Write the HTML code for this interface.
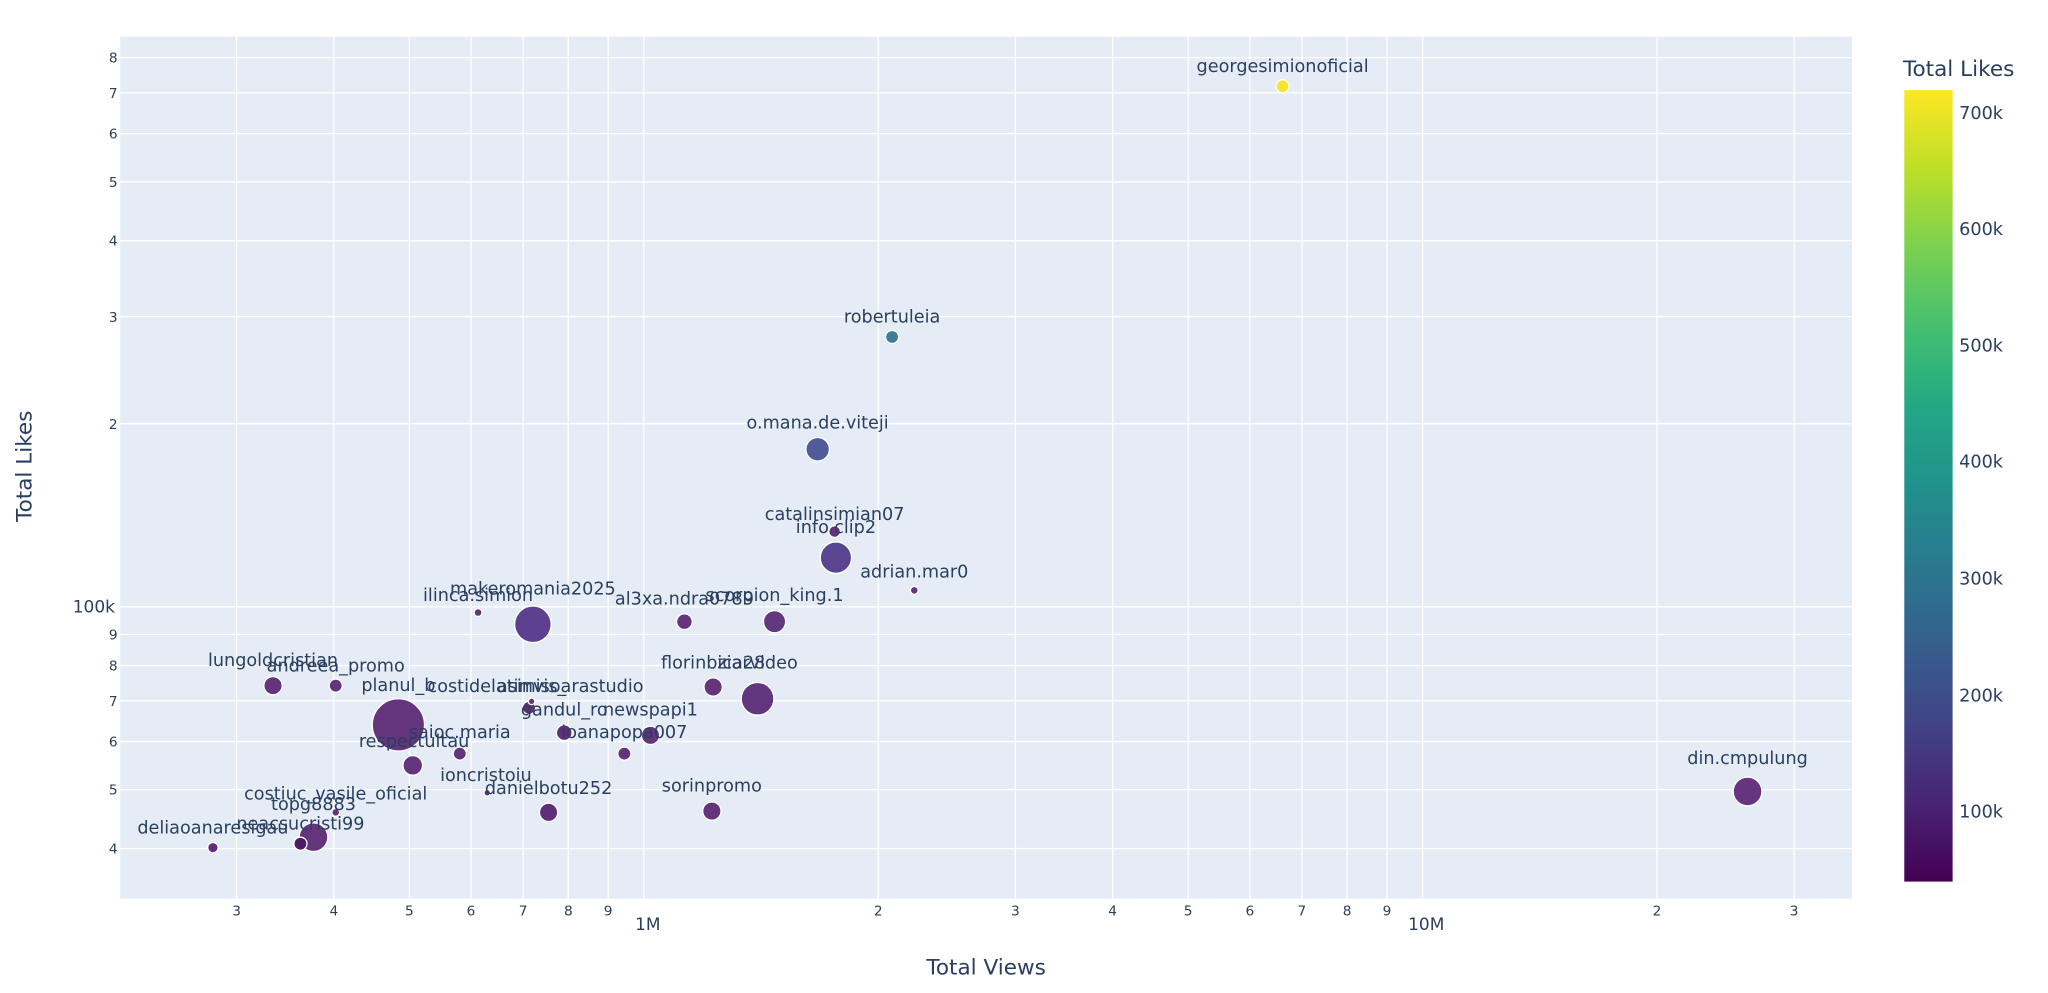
<!DOCTYPE html>
<html><head><meta charset="utf-8"><style>html,body{margin:0;padding:0;background:#fff}svg{display:block}</style></head>
<body>
<svg width="2048" height="993" viewBox="0 0 1568 760.3" xmlns="http://www.w3.org/2000/svg" font-family="'DejaVu Sans', 'Liberation Sans', sans-serif">
<defs>
<linearGradient id="vir" x1="0" y1="1" x2="0" y2="0">
<stop offset="0" stop-color="#440154"/><stop offset="0.1" stop-color="#482475"/><stop offset="0.2" stop-color="#414487"/><stop offset="0.3" stop-color="#355f8d"/><stop offset="0.4" stop-color="#2a788e"/><stop offset="0.5" stop-color="#21918c"/><stop offset="0.6" stop-color="#22a884"/><stop offset="0.7" stop-color="#44bf70"/><stop offset="0.8" stop-color="#7ad151"/><stop offset="0.9" stop-color="#bddf26"/><stop offset="1" stop-color="#fde725"/>
</linearGradient>
</defs>
<rect x="92" y="28" width="1326" height="660" fill="#e5ecf6"/>
<g stroke="#fff" stroke-width="1">
<line x1="181.1" y1="28" x2="181.1" y2="688"/><line x1="255.6" y1="28" x2="255.6" y2="688"/><line x1="313.4" y1="28" x2="313.4" y2="688"/><line x1="360.6" y1="28" x2="360.6" y2="688"/><line x1="400.5" y1="28" x2="400.5" y2="688"/><line x1="435.1" y1="28" x2="435.1" y2="688"/><line x1="465.6" y1="28" x2="465.6" y2="688"/><line x1="492.9" y1="28" x2="492.9" y2="688"/><line x1="672.4" y1="28" x2="672.4" y2="688"/><line x1="777.4" y1="28" x2="777.4" y2="688"/><line x1="851.9" y1="28" x2="851.9" y2="688"/><line x1="909.7" y1="28" x2="909.7" y2="688"/><line x1="956.9" y1="28" x2="956.9" y2="688"/><line x1="996.8" y1="28" x2="996.8" y2="688"/><line x1="1031.4" y1="28" x2="1031.4" y2="688"/><line x1="1061.9" y1="28" x2="1061.9" y2="688"/><line x1="1089.2" y1="28" x2="1089.2" y2="688"/><line x1="1268.7" y1="28" x2="1268.7" y2="688"/><line x1="1373.7" y1="28" x2="1373.7" y2="688"/>
<line x1="92" y1="649.7" x2="1418" y2="649.7"/><line x1="92" y1="604.6" x2="1418" y2="604.6"/><line x1="92" y1="567.8" x2="1418" y2="567.8"/><line x1="92" y1="536.6" x2="1418" y2="536.6"/><line x1="92" y1="509.6" x2="1418" y2="509.6"/><line x1="92" y1="485.8" x2="1418" y2="485.8"/><line x1="92" y1="464.5" x2="1418" y2="464.5"/><line x1="92" y1="324.4" x2="1418" y2="324.4"/><line x1="92" y1="242.4" x2="1418" y2="242.4"/><line x1="92" y1="184.3" x2="1418" y2="184.3"/><line x1="92" y1="139.2" x2="1418" y2="139.2"/><line x1="92" y1="102.3" x2="1418" y2="102.3"/><line x1="92" y1="71.1" x2="1418" y2="71.1"/><line x1="92" y1="44.1" x2="1418" y2="44.1"/>
</g>
<g fill="#2a3f5f" font-size="10.5" text-anchor="middle">
<text x="181.1" y="701">3</text><text x="255.6" y="701">4</text><text x="313.4" y="701">5</text><text x="360.6" y="701">6</text><text x="400.5" y="701">7</text><text x="435.1" y="701">8</text><text x="465.6" y="701">9</text><text x="672.4" y="701">2</text><text x="777.4" y="701">3</text><text x="851.9" y="701">4</text><text x="909.7" y="701">5</text><text x="956.9" y="701">6</text><text x="996.8" y="701">7</text><text x="1031.4" y="701">8</text><text x="1061.9" y="701">9</text><text x="1268.7" y="701">2</text><text x="1373.7" y="701">3</text>
<text x="496" y="712" font-size="13">1M</text><text x="1092" y="712" font-size="13">10M</text>
</g>
<g fill="#2a3f5f" font-size="10.5" text-anchor="end">
<text x="90" y="653.5">4</text><text x="90" y="608.5">5</text><text x="90" y="571.5">6</text><text x="90" y="540.5">7</text><text x="90" y="513.5">8</text><text x="90" y="489.5">9</text><text x="88" y="469" font-size="13">100k</text><text x="90" y="328.5">2</text><text x="90" y="246.5">3</text><text x="90" y="188">4</text><text x="90" y="143">5</text><text x="90" y="106">6</text><text x="90" y="75">7</text><text x="90" y="48">8</text>
</g>
<text x="755" y="746" font-size="16.5" fill="#2a3f5f" text-anchor="middle">Total Views</text>
<text transform="translate(24,357) rotate(-90)" font-size="16.5" fill="#2a3f5f" text-anchor="middle">Total Likes</text>
<g stroke="#fff" stroke-width="1">
<circle cx="305" cy="555" r="20" fill="#64347d"/>
<circle cx="408" cy="478" r="14" fill="#5d4190"/>
<circle cx="640" cy="427" r="12" fill="#594590"/>
<circle cx="580" cy="535" r="12.5" fill="#64357f"/>
<circle cx="1338" cy="606" r="11" fill="#66357f"/>
<circle cx="240" cy="641" r="11" fill="#64347d"/>
<circle cx="626" cy="344" r="9" fill="#525b99"/>
<circle cx="593" cy="476" r="8.5" fill="#62397f"/>
<circle cx="209" cy="525" r="7" fill="#64347d"/>
<circle cx="546" cy="526" r="7" fill="#64347d"/>
<circle cx="498" cy="563" r="7" fill="#64347d"/>
<circle cx="316" cy="586" r="7.5" fill="#64347d"/>
<circle cx="420" cy="622" r="7" fill="#5f2f78"/>
<circle cx="545" cy="621" r="7" fill="#64347d"/>
<circle cx="524" cy="476" r="6" fill="#64347d"/>
<circle cx="432" cy="561" r="6" fill="#5f3079"/>
<circle cx="478" cy="577" r="5" fill="#64347d"/>
<circle cx="352" cy="577" r="5" fill="#64347d"/>
<circle cx="405" cy="542" r="5" fill="#5f3079"/>
<circle cx="407" cy="537" r="2.5" fill="#64347d"/>
<circle cx="257" cy="525" r="5" fill="#64347d"/>
<circle cx="230" cy="646" r="5" fill="#4d1a66"/>
<circle cx="163" cy="649" r="4" fill="#5f2f78"/>
<circle cx="683" cy="258" r="5" fill="#3f7c9a"/>
<circle cx="982" cy="66" r="5" fill="#f7e532"/>
<circle cx="639" cy="407" r="4.5" fill="#64347d"/>
<circle cx="700" cy="452" r="3" fill="#64347d"/>
<circle cx="366" cy="469" r="3" fill="#64347d"/>
<circle cx="373" cy="607" r="2.5" fill="#5f2f78"/>
<circle cx="257" cy="622" r="3" fill="#64347d"/>
</g>
<g fill="#2a3f5f" font-size="13.5" text-anchor="middle">
<text x="982" y="55">georgesimionoficial</text>
<text x="683" y="247">robertuleia</text>
<text x="626" y="328">o.mana.de.viteji</text>
<text x="639" y="398">catalinsimian07</text>
<text x="640" y="408">info.clip2</text>
<text x="700" y="442">adrian.mar0</text>
<text x="408" y="455">makeromania2025</text>
<text x="366" y="460">ilinca.simion</text>
<text x="524" y="463">al3xa.ndra0789</text>
<text x="593" y="460">scorpion_king.1</text>
<text x="209" y="510">lungoldcristian</text>
<text x="257" y="514">andreea_promo</text>
<text x="305" y="529">planul_b</text>
<text x="410" y="530">costidelatimisoarastudio</text>
<text x="407" y="530">asinvis_</text>
<text x="432" y="548">gandul_ro</text>
<text x="498" y="548">newspapi1</text>
<text x="478" y="565">ioanapopa007</text>
<text x="352" y="565">saioc.maria</text>
<text x="317" y="572">respectultau</text>
<text x="546" y="512">florinbica28</text>
<text x="580" y="512">ziarvideo</text>
<text x="372" y="598">ioncristoiu</text>
<text x="420" y="608">danielbotu252</text>
<text x="545" y="606">sorinpromo</text>
<text x="257" y="612">costiuc_vasile_oficial</text>
<text x="240" y="620">topg8883</text>
<text x="230" y="635">neacsucristi99</text>
<text x="163" y="638">deliaoanaresigau</text>
<text x="1338" y="585">din.cmpulung</text>
</g>
<rect x="1458" y="69" width="37" height="606" fill="url(#vir)"/>
<text x="1457" y="58" font-size="16.5" fill="#2a3f5f">Total Likes</text>
<g fill="#2a3f5f" font-size="13.5">
<text x="1500" y="626">100k</text><text x="1500" y="537">200k</text><text x="1500" y="447.5">300k</text><text x="1500" y="358">400k</text><text x="1500" y="269">500k</text><text x="1500" y="180">600k</text><text x="1500" y="91">700k</text>
</g>
</svg>
</body></html>
